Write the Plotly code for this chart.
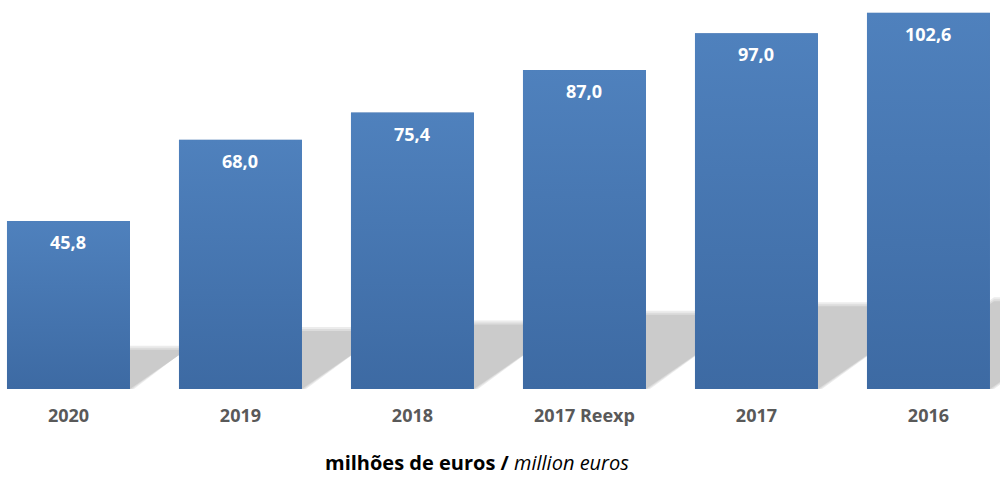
import base64
import plotly.graph_objects as go

# ---- data ----
categories = ["2020", "2019", "2018", "2017 Reexp", "2017", "2016"]
values = [45.8, 68.0, 75.4, 87.0, 97.0, 102.6]
value_labels = ["45,8", "68,0", "75,4", "87,0", "97,0", "102,6"]
unit_title = "<b>milhões de euros /</b> <i>million euros</i>"

# ---- style ----
FONT = "Open Sans"
BAR_TOP = "#4f81bd"
BAR_BOTTOM = "#3d6aa3"
BAR_MID = "#4675b0"
BAR_WIDTH = 0.715
Y_MAX = 106.1
X_RANGE = [-0.398, 5.416]
W, H = 1000, 478
M_L, M_R, M_T, M_B = 0, 0, 0, 89

xs = list(range(len(categories)))

fig = go.Figure()
fig.add_trace(go.Bar(
    x=xs, y=values, width=BAR_WIDTH,
    marker=dict(color=BAR_MID, line=dict(width=0)),
    hoverinfo="skip",
))

# gradient overlay for each bar (per-bar vertical gradient)
svg = (
    '<svg xmlns="http://www.w3.org/2000/svg" width="10" height="100" '
    'viewBox="0 0 10 100" preserveAspectRatio="none">'
    '<defs><linearGradient id="g" x1="0" y1="0" x2="0" y2="1">'
    f'<stop offset="0" stop-color="{BAR_TOP}"/>'
    f'<stop offset="1" stop-color="{BAR_BOTTOM}"/>'
    '</linearGradient></defs>'
    '<rect x="0" y="0" width="10" height="100" fill="url(#g)"/></svg>'
)
src = "data:image/svg+xml;base64," + base64.b64encode(svg.encode()).decode()

images = []
for x, v in zip(xs, values):
    images.append(dict(
        source=src, xref="x", yref="y",
        x=x - BAR_WIDTH / 2, y=v, sizex=BAR_WIDTH, sizey=v,
        xanchor="left", yanchor="top", sizing="stretch", layer="above",
    ))

# perspective shadows derived from bar values
plot_w = W - M_L - M_R
plot_h = H - M_T - M_B
px_per_x = plot_w / (X_RANGE[1] - X_RANGE[0])
px_per_y = plot_h / Y_MAX
SHADOW_RATIO = 0.233
SKEW = 1.45  # horizontal px per vertical px

shapes = []
for x, v in zip(xs, values):
    h = SHADOW_RATIO * v
    s = SKEW * h * px_per_y / px_per_x
    xl, xr = x - BAR_WIDTH / 2, x + BAR_WIDTH / 2
    for grow, col in [(4, "#ececec"), (2, "#dcdcdc"), (0, "#cbcbcb")]:
        gy = grow / px_per_y
        gx = grow / px_per_x
        path = (f"M {xl},0 L {xr + gx},0 L {xr + s + gx},{h + gy} "
                f"L {xl + s},{h + gy} Z")
        shapes.append(dict(type="path", path=path, xref="x", yref="y",
                           fillcolor=col, line=dict(width=0), layer="below"))

annotations = []
for x, v, t in zip(xs, values, value_labels):
    annotations.append(dict(
        x=x, y=v, xref="x", yref="y", text=f"<b>{t}</b>", showarrow=False,
        yanchor="middle", yshift=-21,
        font=dict(family=FONT, size=18, color="white"),
    ))
annotations.append(dict(
    x=0.477, y=(plot_h - 463) / plot_h, xref="paper", yref="paper",
    text=unit_title,
    showarrow=False, xanchor="center", yanchor="middle",
    font=dict(family=FONT, size=20, color="#000000"),
))

fig.update_layout(
    width=W, height=H,
    margin=dict(l=M_L, r=M_R, t=M_T, b=M_B, pad=0),
    paper_bgcolor="white", plot_bgcolor="white",
    showlegend=False,
    images=images, shapes=shapes, annotations=annotations,
    font=dict(family=FONT),
)
fig.update_xaxes(
    range=X_RANGE, tickmode="array", tickvals=xs,
    ticktext=[f"<b>{c}</b>" for c in categories],
    showgrid=False, zeroline=False, showline=False, ticks="",
    ticklabelstandoff=14,
    tickfont=dict(family=FONT, size=18, color="#595959"),
)
fig.update_yaxes(range=[0, Y_MAX], visible=False, showgrid=False, zeroline=False)

fig.write_html("out.html")
